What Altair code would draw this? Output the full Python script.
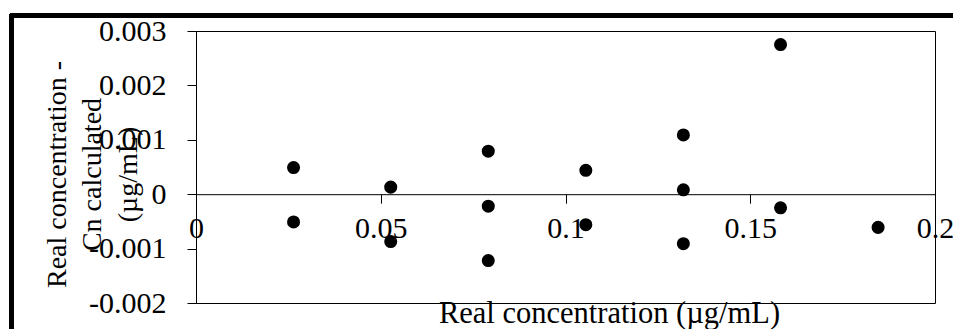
import altair as alt
import pandas as pd

# Data
real_conc = [0.0264, 0.0264, 0.0527, 0.0527, 0.0791, 0.0791, 0.0791,
             0.1055, 0.1055, 0.1319, 0.1319, 0.1319, 0.1582, 0.1582, 0.1846]
residual = [0.00049, -0.00051, 0.00013, -0.00087, 0.00079, -0.00022, -0.00122,
            0.00044, -0.00056, 0.00109, 0.00008, -0.00091, 0.00275, -0.00025, -0.00061]
x_ticks = [0, 0.05, 0.1, 0.15, 0.2]
y_ticks = [-0.002, -0.001, 0, 0.001, 0.002, 0.003]

df = pd.DataFrame({"x": real_conc, "y": residual})

FONT = "Times New Roman, Liberation Serif, DejaVu Serif, serif"
W, H = 739, 272

points = alt.Chart(df).mark_circle(size=170, color="black", opacity=1).encode(
    x=alt.X(
        "x:Q",
        scale=alt.Scale(domain=[0, 0.2], nice=False, zero=False),
        axis=alt.Axis(
            values=x_ticks,
            labelExpr="'' + datum.value",
            offset=-108.8,
            domainColor="black",
            domainWidth=1,
            tickColor="black",
            tickSize=9,
            labelPadding=10,
            labelFlush=False,
            labelOverlap=False,
            labelFont=FONT,
            labelFontSize=30,
            labelColor="black",
            grid=False,
            title="Real concentration (µg/mL)",
            titleFont=FONT,
            titleFontSize=30.5,
            titleFontWeight="normal",
            titleColor="black",
            titleX=413,
            titleY=104,
            titleBaseline="top",
            titleAlign="center",
        ),
    ),
    y=alt.Y(
        "y:Q",
        scale=alt.Scale(domain=[-0.002, 0.003], nice=False, zero=False),
        axis=alt.Axis(
            values=y_ticks,
            labelExpr="'' + datum.value",
            domainColor="black",
            domainWidth=1,
            tickColor="black",
            tickSize=9,
            labelPadding=21,
            labelOverlap=False,
            labelFont=FONT,
            labelFontSize=30,
            labelColor="black",
            grid=False,
            title=["Real concentration -", "Cn calculated", "(µg/mL)"],
            titleFont=FONT,
            titleFontSize=28,
            titleFontWeight="normal",
            titleColor="black",
            titleAngle=270,
            titleX=-139,
            titleY=143,
            titleBaseline="middle",
            titleAlign="center",
            titleLineHeight=35.5,
        ),
    ),
)

# outer frame (decorative), drawn relative to the plot origin
frame_top = alt.Chart(df).mark_rule(color="black", strokeWidth=3.5).encode(
    x=alt.value(-186), x2=alt.value(W + 30), y=alt.value(-15.5)
)
frame_left = alt.Chart(df).mark_rule(color="black", strokeWidth=3.5).encode(
    x=alt.value(-184.5), y=alt.value(-17), y2=alt.value(H + 40)
)

chart = alt.layer(frame_top, frame_left, points).properties(
    width=W,
    height=H,
    autosize=alt.AutoSizeParams(type="none"),
    padding={"left": 188, "top": 23, "right": 18, "bottom": 26},
    background="white",
).configure_view(stroke="black", strokeWidth=1)

chart.save("out.html", embed_options={"renderer": "svg", "actions": False})
